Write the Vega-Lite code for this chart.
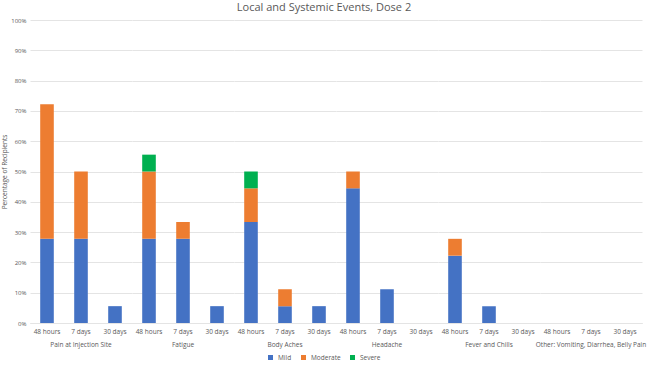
{
  "$schema": "https://vega.github.io/schema/vega-lite/v6.json",
  "padding": {"left": 1, "top": 2, "right": 1, "bottom": 0},
  "background": "white",
  "title": {
    "text": "Local and Systemic Events, Dose 2",
    "fontSize": 11,
    "font": "Open Sans",
    "fontWeight": "normal",
    "color": "#595959",
    "anchor": "middle",
    "offset": 4
  },
  "data": {
    "values": [
      {"group": "Pain at Injection Site", "period": "48 hours", "severity": "Mild", "pct": 27.78},
      {"group": "Pain at Injection Site", "period": "48 hours", "severity": "Moderate", "pct": 44.44},
      {"group": "Pain at Injection Site", "period": "7 days", "severity": "Mild", "pct": 27.78},
      {"group": "Pain at Injection Site", "period": "7 days", "severity": "Moderate", "pct": 22.22},
      {"group": "Pain at Injection Site", "period": "30 days", "severity": "Mild", "pct": 5.56},
      {"group": "Fatigue", "period": "48 hours", "severity": "Mild", "pct": 27.78},
      {"group": "Fatigue", "period": "48 hours", "severity": "Moderate", "pct": 22.22},
      {"group": "Fatigue", "period": "48 hours", "severity": "Severe", "pct": 5.56},
      {"group": "Fatigue", "period": "7 days", "severity": "Mild", "pct": 27.78},
      {"group": "Fatigue", "period": "7 days", "severity": "Moderate", "pct": 5.56},
      {"group": "Fatigue", "period": "30 days", "severity": "Mild", "pct": 5.56},
      {"group": "Body Aches", "period": "48 hours", "severity": "Mild", "pct": 33.33},
      {"group": "Body Aches", "period": "48 hours", "severity": "Moderate", "pct": 11.11},
      {"group": "Body Aches", "period": "48 hours", "severity": "Severe", "pct": 5.56},
      {"group": "Body Aches", "period": "7 days", "severity": "Mild", "pct": 5.56},
      {"group": "Body Aches", "period": "7 days", "severity": "Moderate", "pct": 5.56},
      {"group": "Body Aches", "period": "30 days", "severity": "Mild", "pct": 5.56},
      {"group": "Headache", "period": "48 hours", "severity": "Mild", "pct": 44.44},
      {"group": "Headache", "period": "48 hours", "severity": "Moderate", "pct": 5.56},
      {"group": "Headache", "period": "7 days", "severity": "Mild", "pct": 11.11},
      {"group": "Headache", "period": "30 days", "severity": "Mild", "pct": 0},
      {"group": "Fever and Chills", "period": "48 hours", "severity": "Mild", "pct": 22.22},
      {"group": "Fever and Chills", "period": "48 hours", "severity": "Moderate", "pct": 5.56},
      {"group": "Fever and Chills", "period": "7 days", "severity": "Mild", "pct": 5.56},
      {"group": "Fever and Chills", "period": "30 days", "severity": "Mild", "pct": 0},
      {"group": "Other: Vomiting, Diarrhea, Belly Pain", "period": "48 hours", "severity": "Mild", "pct": 0},
      {"group": "Other: Vomiting, Diarrhea, Belly Pain", "period": "7 days", "severity": "Mild", "pct": 0},
      {"group": "Other: Vomiting, Diarrhea, Belly Pain", "period": "30 days", "severity": "Mild", "pct": 0}
    ]
  },
  "facet": {
    "column": {
      "field": "group",
      "type": "nominal",
      "sort": ["Pain at Injection Site", "Fatigue", "Body Aches", "Headache", "Fever and Chills", "Other: Vomiting, Diarrhea, Belly Pain"],
      "header": {
        "title": null,
        "labelOrient": "bottom",
        "labelFontSize": 6.5,
        "labelFont": "Open Sans",
        "labelColor": "#595959",
        "labelPadding": 7
      }
    }
  },
  "spacing": 0,
  "spec": {
    "width": 102,
    "height": 303,
    "mark": {"type": "bar"},
    "encoding": {
      "x": {
        "field": "period",
        "type": "nominal",
        "sort": ["48 hours", "7 days", "30 days"],
        "scale": {"paddingInner": 0.6, "paddingOuter": 0.3},
        "axis": {
          "title": null,
          "labelAngle": 0,
          "labelFontSize": 6.5,
          "labelFont": "Open Sans",
          "labelColor": "#595959",
          "labelPadding": 5,
          "ticks": false,
          "domainColor": "#d9d9d9",
          "grid": false
        }
      },
      "y": {
        "field": "pct",
        "type": "quantitative",
        "stack": "zero",
        "scale": {"domain": [0, 100], "nice": false},
        "axis": {
          "title": "Percentage of Recipients",
          "titleFontSize": 6.5,
          "titleFont": "Open Sans",
          "titleFontWeight": "normal",
          "titleColor": "#595959",
          "titlePadding": 3,
          "values": [0, 10, 20, 30, 40, 50, 60, 70, 80, 90, 100],
          "labelExpr": "datum.value + '%'",
          "labelFontSize": 6,
          "labelFont": "Open Sans",
          "labelColor": "#595959",
          "labelPadding": 4,
          "ticks": false,
          "domain": false,
          "gridColor": "#e4e4e4"
        }
      },
      "color": {
        "field": "severity",
        "type": "nominal",
        "scale": {
          "domain": ["Mild", "Moderate", "Severe"],
          "range": ["#4472C4", "#ED7D31", "#00B050"]
        },
        "legend": {
          "title": null,
          "orient": "bottom",
          "direction": "horizontal",
          "symbolType": "square",
          "symbolSize": 25,
          "labelFontSize": 6.5,
          "labelFont": "Open Sans",
          "labelColor": "#595959",
          "columnPadding": 8,
          "offset": 6
        }
      },
      "order": {"field": "severity", "sort": "ascending"}
    }
  },
  "config": {
    "view": {"stroke": null},
    "legend": {"layout": {"bottom": {"anchor": "middle"}}}
  }
}
